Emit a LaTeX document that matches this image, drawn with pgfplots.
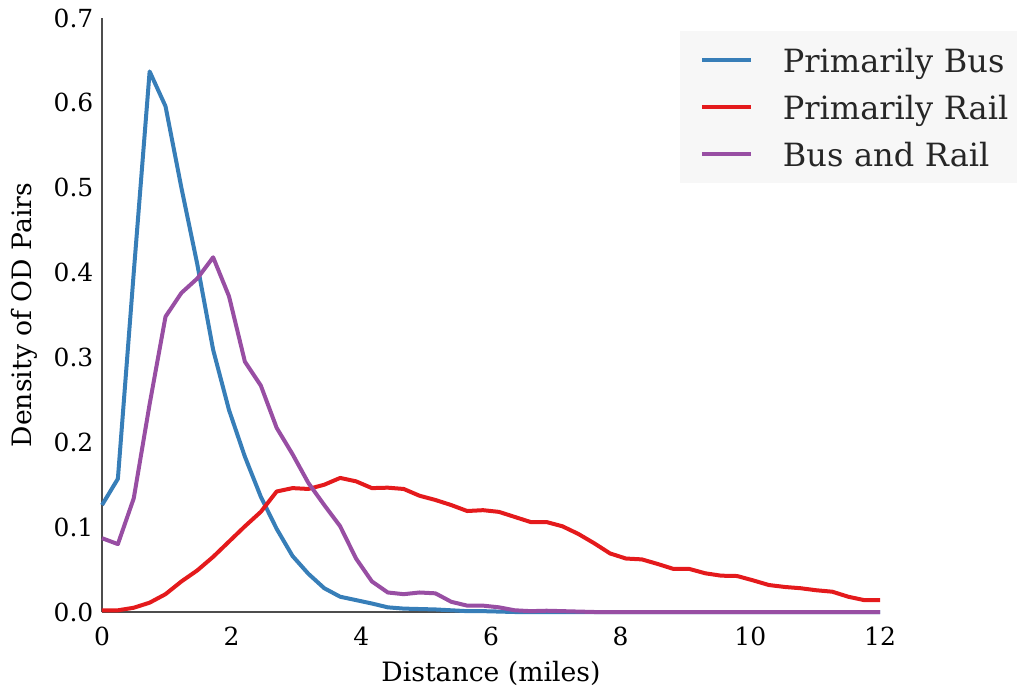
\documentclass[border=0pt]{standalone}
\usepackage{fontspec}
\setmainfont{DejaVu Serif}
\usepackage{pgfplots}
\usepackage{pgfplotstable}
\pgfplotsset{compat=1.18}
\definecolor{cbus}{HTML}{377EB8}
\definecolor{crail}{HTML}{E41A1C}
\definecolor{cboth}{HTML}{984EA3}
\definecolor{legbg}{HTML}{F7F7F7}
\definecolor{legtxt}{HTML}{262626}
\definecolor{axcol}{HTML}{4D4D4D}
\pgfplotstableread{
x bus rail both
0.0000 0.126 0.002 0.087
0.2449 0.157 0.002 0.080
0.4898 0.400 0.005 0.134
0.7347 0.637 0.011 0.245
0.9796 0.596 0.021 0.348
1.2245 0.500 0.036 0.376
1.4694 0.410 0.049 0.393
1.7143 0.309 0.065 0.418
1.9592 0.238 0.083 0.372
2.2041 0.183 0.101 0.295
2.4490 0.136 0.118 0.267
2.6939 0.098 0.142 0.217
2.9388 0.066 0.146 0.186
3.1837 0.045 0.145 0.152
3.4286 0.028 0.150 0.126
3.6735 0.018 0.158 0.101
3.9184 0.014 0.154 0.063
4.1633 0.010 0.146 0.036
4.4082 0.0055 0.1465 0.023
4.6531 0.004 0.145 0.021
4.8980 0.0035 0.137 0.023
5.1429 0.003 0.132 0.022
5.3878 0.002 0.126 0.012
5.6327 0.001 0.119 0.0075
5.8776 0.001 0.120 0.0075
6.1224 0.0005 0.118 0.0055
6.3673 0 0.112 0.002
6.6122 0 0.106 0.001
6.8571 0 0.106 0.0015
7.1020 0 0.101 0.001
7.3469 0 0.092 0.0005
7.5918 0 0.081 0
7.8367 0 0.069 0
8.0816 0 0.063 0
8.3265 0 0.062 0
8.5714 0 0.0566 0
8.8163 0 0.0507 0
9.0612 0 0.0507 0
9.3061 0 0.0456 0
9.5510 0 0.0428 0
9.7959 0 0.0424 0
10.0408 0 0.0373 0
10.2857 0 0.0318 0
10.5306 0 0.0295 0
10.7755 0 0.028 0
11.0204 0 0.0256 0
11.2653 0 0.0239 0
11.5102 0 0.018 0
11.7551 0 0.014 0
12.0000 0 0.014 0
}\datatable
\begin{document}
\begin{tikzpicture}
\useasboundingbox (-76.5pt,-57.75pt) rectangle (686.25pt,459pt);
\begin{axis}[
  at={(0pt,0pt)}, anchor=south west,
  scale only axis,
  width=583.5pt, height=445.5pt,
  xmin=0, xmax=12, ymin=0, ymax=0.7,
  clip=false,
  separate axis lines,
  axis x line*=bottom, axis y line*=left,
  axis line style={-, color=axcol, line width=1.2pt},
  major tick length=0pt,
  xtick={0,2,4,6,8,10,12},
  ytick={0,0.1,0.2,0.3,0.4,0.5,0.6,0.7},
  /pgf/number format/assume math mode=true,
  yticklabel style={/pgf/number format/.cd, fixed, fixed zerofill, precision=1, /tikz/.cd, inner sep=0pt, anchor=east, xshift=-6.3pt, font=\fontsize{18.7}{22}\selectfont},
  xticklabel style={inner sep=0pt, anchor=north, yshift=-11.25pt, font=\fontsize{18.7}{22}\selectfont},
  xlabel={Distance (miles)},
  ylabel={Density of OD Pairs},
  xlabel style={at={(axis description cs:0.5,0)}, anchor=center, yshift=-46pt, font=\fontsize{20}{24}\selectfont},
  ylabel style={at={(axis description cs:-0.1003,0.5)}, anchor=center, font=\fontsize{20}{24}\selectfont},
  legend image code/.code={\draw[#1] (15pt,0pt) -- (51.75pt,0pt); \path (0pt,0pt) (74pt,0pt);},
  legend style={at={(0.7429,0.978)}, anchor=north west, fill=legbg, draw=none,
    inner xsep=0pt, inner ysep=8.55pt, row sep=8.85pt,
    font=\fontsize{24}{28}\selectfont, text=legtxt,
    nodes={inner sep=0pt, text height=22pt, text depth=4.4pt, text width=190pt, align=left}},
  legend cell align=left,
]
\addplot[color=cbus, line width=3pt, line join=round] table[x=x, y=bus] {\datatable};
\addlegendentry{Primarily Bus}
\addplot[color=crail, line width=3pt, line join=round] table[x=x, y=rail] {\datatable};
\addlegendentry{Primarily Rail}
\addplot[color=cboth, line width=3pt, line join=round] table[x=x, y=both] {\datatable};
\addlegendentry{Bus and Rail}
\end{axis}
\end{tikzpicture}
\end{document}
